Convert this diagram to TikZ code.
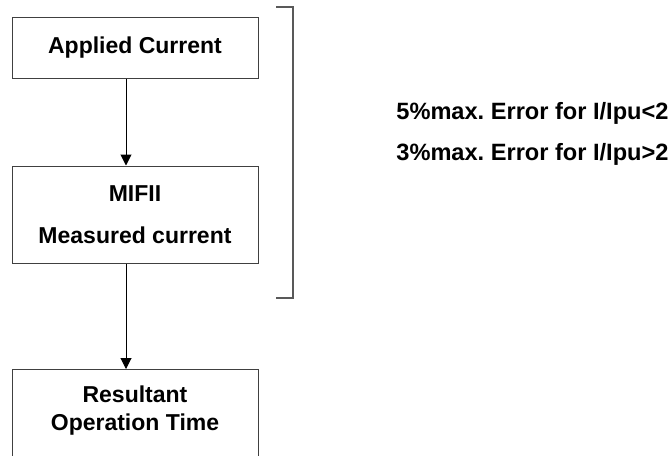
\documentclass[tikz,border=0pt]{standalone}
\usepackage{fontspec}
\setmainfont{Liberation Sans}
\usetikzlibrary{arrows.meta}

\begin{document}
\begin{tikzpicture}[x=0.5pt,y=-0.5pt,
  every node/.style={font=\bfseries\fontsize{11.5}{14}\selectfont,inner sep=0pt},
  box/.style={draw=black!75,line width=0.5pt,minimum width=123pt},
  arr/.style={-{Triangle[length=5.5pt,width=5.5pt]},line width=0.5pt},
  brk/.style={draw=black!65,line width=0.7pt},
  err/.style={anchor=base west,font=\bfseries\fontsize{11.8}{14}\selectfont}]
\clip (0,0) rectangle (668,455);
\node[box,minimum height=30.5pt] (appl) at (135,47.5) {Applied Current};
\node[box,minimum height=48.5pt,align=center] (mifi) at (135,214.5)
 {MIFII\\[7.3pt]Measured current};
\node[box,minimum height=55pt,anchor=north] (res) at (135,369) {};
\node[align=center] (restxt) at (135,411) {Resultant\\Operation Time};
\draw[arr] ([xshift=-4.5pt]appl.south) -- ([xshift=-4.5pt]mifi.north);
\draw[arr] ([xshift=-4.5pt]mifi.south) -- ([xshift=-4.5pt]res.north);
% bracket and error limits
\coordinate (bt) at (276,7);
\coordinate (bb) at (276,298);
\draw[brk] (bt) -- ++(17,0) |- (bb);
\node[err] (errlo) at (396,119.5) {5\%max.\ Error for I/Ipu<2};
\node[err] (errhi) at (396,160.5) {3\%max.\ Error for I/Ipu>2};
\end{tikzpicture}
\end{document}
